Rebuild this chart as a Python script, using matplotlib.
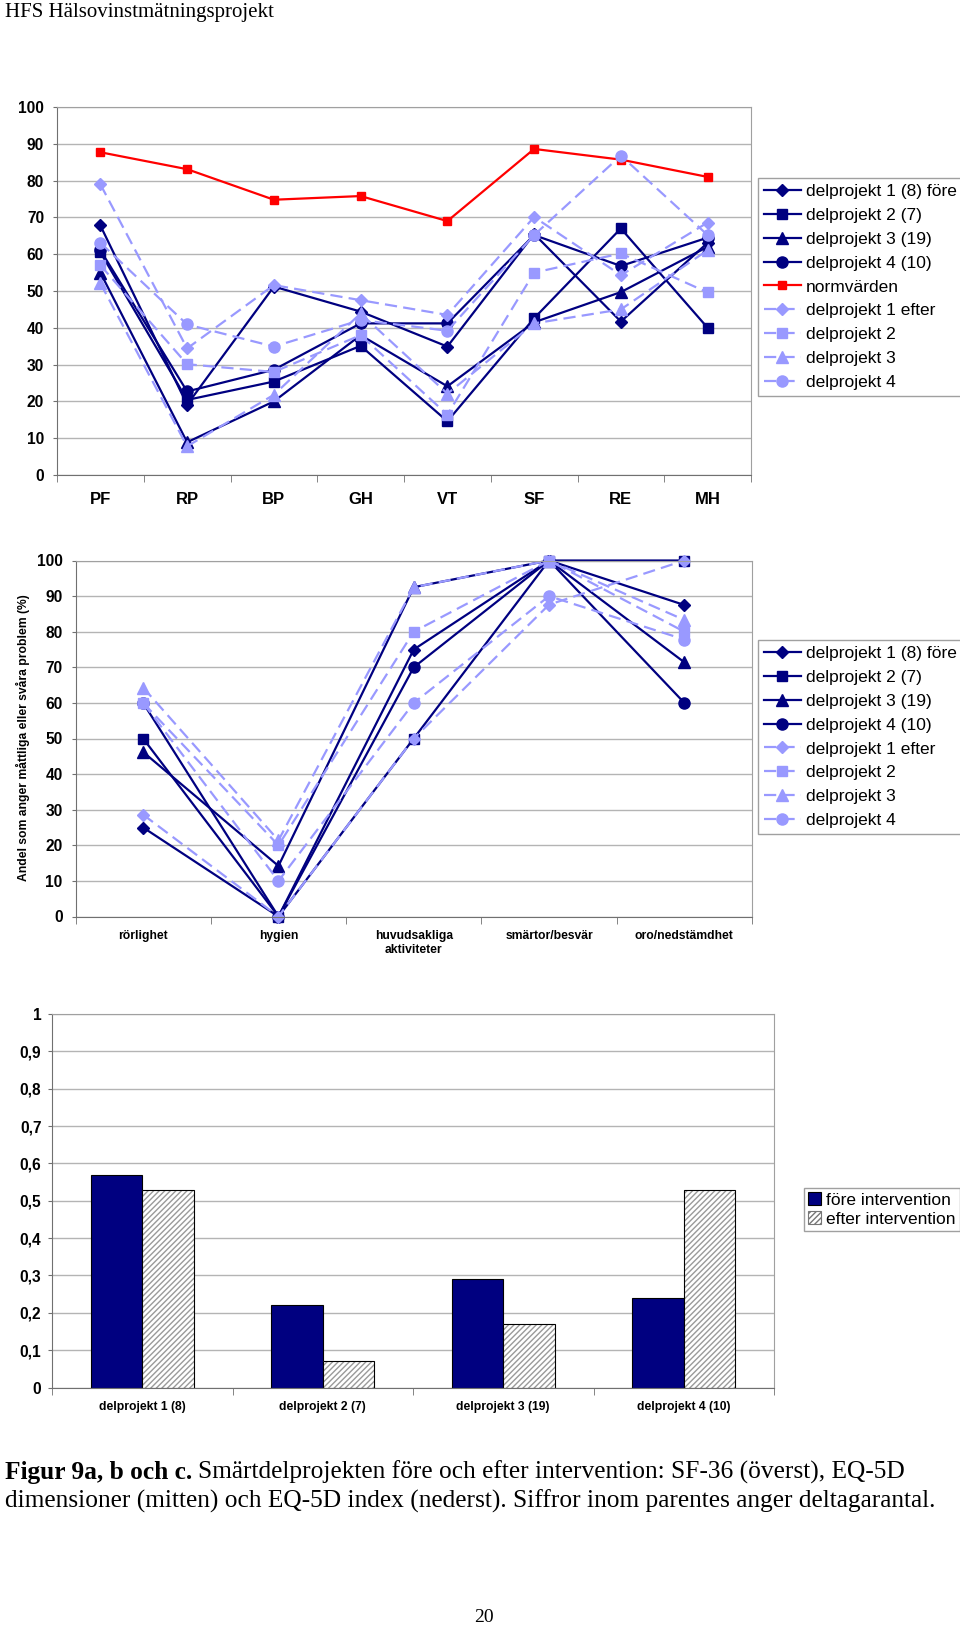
import matplotlib
matplotlib.use('Agg')
import matplotlib.pyplot as plt
from matplotlib.patches import Patch
import numpy as np

# ---------------- data ----------------
sf_categories = ['PF', 'RP', 'BP', 'GH', 'VT', 'SF', 'RE', 'MH']
sf_dp1_fore = [67.8, 19.1, 51.2, 44.4, 34.9, 65.5, 41.7, 63.1]
sf_dp2_fore = [60.5, 20.4, 25.4, 35.1, 14.6, 42.6, 67.0, 40.0]
sf_dp3_fore = [55.0, 8.9, 20.0, 38.0, 24.1, 41.5, 49.7, 62.0]
sf_dp4_fore = [61.1, 22.7, 28.6, 41.2, 41.2, 65.2, 56.8, 64.5]
sf_norm = [87.7, 83.1, 74.8, 75.8, 69.0, 88.6, 85.7, 81.0]
sf_dp1_efter = [79.0, 34.4, 51.6, 47.5, 43.5, 70.1, 54.3, 68.6]
sf_dp2_efter = [57.0, 30.1, 28.0, 38.0, 16.4, 55.0, 60.2, 49.6]
sf_dp3_efter = [52.1, 7.8, 21.8, 43.9, 22.1, 41.2, 45.0, 61.1]
sf_dp4_efter = [63.1, 40.9, 34.9, 42.1, 39.2, 65.2, 86.8, 65.2]

eq_categories = ['rörlighet', 'hygien', 'huvudsakliga\naktiviteter',
                 'smärtor/besvär', 'oro/nedstämdhet']
eq_dp1_fore = [25.0, 0.0, 75.0, 100.0, 87.5]
eq_dp2_fore = [50.0, 0.0, 50.0, 100.0, 100.0]
eq_dp3_fore = [46.2, 14.2, 92.5, 100.0, 71.4]
eq_dp4_fore = [60.0, 0.0, 70.0, 100.0, 60.0]
eq_dp1_efter = [28.6, 0.0, 50.0, 87.6, 100.0]
eq_dp2_efter = [60.0, 20.0, 80.0, 100.0, 80.0]
eq_dp3_efter = [64.3, 21.4, 92.5, 100.0, 83.3]
eq_dp4_efter = [60.0, 10.0, 60.0, 90.0, 77.8]

idx_groups = ['delprojekt 1 (8)', 'delprojekt 2 (7)', 'delprojekt 3 (19)', 'delprojekt 4 (10)']
idx_fore = [0.57, 0.22, 0.29, 0.24]
idx_efter = [0.53, 0.07, 0.17, 0.53]

sf_labels = ['delprojekt 1 (8) före', 'delprojekt 2 (7)', 'delprojekt 3 (19)',
             'delprojekt 4 (10)', 'normvärden', 'delprojekt 1 efter',
             'delprojekt 2', 'delprojekt 3', 'delprojekt 4']
eq_labels = ['delprojekt 1 (8) före', 'delprojekt 2 (7)', 'delprojekt 3 (19)',
             'delprojekt 4 (10)', 'delprojekt 1 efter', 'delprojekt 2',
             'delprojekt 3', 'delprojekt 4']
idx_labels = ['före intervention', 'efter intervention']

# ---------------- style ----------------
DARK = '#000080'
LIGHT = '#9999FF'
RED = '#FF0000'
GRID = '#B4B4B4'
BOLDF = ['Liberation Sans', 'DejaVu Sans']
SANS = ['Liberation Sans', 'DejaVu Sans']
SERIF = ['Liberation Serif', 'DejaVu Serif']

W, H = 960, 1627
fig = plt.figure(figsize=(W / 100, H / 100), dpi=100)


def ax_px(l, t, r, b):
    return fig.add_axes([l / W, 1 - b / H, (r - l) / W, (b - t) / H])


def style_axes(ax, n, ylim, yticks, yticklabels, ysize, xpad, ypad):
    ax.set_axisbelow(True)
    ax.set_xlim(-0.5, n - 0.5)
    ax.set_ylim(*ylim)
    ax.set_yticks(yticks)
    ax.set_yticklabels(yticklabels, family=BOLDF, fontweight='bold', fontsize=ysize)
    ax.grid(axis='y', color=GRID, lw=1)
    for s in ['top', 'right']:
        ax.spines[s].set_color('#A0A0A0')
    for s in ['left', 'bottom']:
        ax.spines[s].set_color('#707070')
    ax.tick_params(axis='y', length=3, color='#707070', pad=ypad)
    ax.set_xticks(np.arange(n))
    ax.set_xticks(np.arange(n + 1) - 0.5, minor=True)
    ax.tick_params(axis='x', which='major', length=0, pad=xpad)
    ax.tick_params(axis='x', which='minor', length=5, color='#707070')


dark_markers = ['D', 's', '^', 'o']
dark_ms = [6, 7, 8, 8]
legend_kw = dict(loc='upper left', bbox_transform=fig.transFigure, frameon=True,
                 fancybox=False, edgecolor='#A0A0A0', framealpha=1,
                 prop={'family': SANS, 'size': 12.5}, borderaxespad=0)

# ---------------- chart 1: SF-36 ----------------
ax1 = ax_px(57, 107, 751, 475)
x1 = np.arange(len(sf_categories))
sf_fore = [sf_dp1_fore, sf_dp2_fore, sf_dp3_fore, sf_dp4_fore]
sf_efter = [sf_dp1_efter, sf_dp2_efter, sf_dp3_efter, sf_dp4_efter]
handles1 = []
for vals, m, ms in zip(sf_fore, dark_markers, dark_ms):
    h, = ax1.plot(x1, vals, color=DARK, lw=1.6, marker=m, ms=ms, mec=DARK, mfc=DARK)
    handles1.append(h)
h, = ax1.plot(x1, sf_norm, color=RED, lw=1.6, marker='s', ms=5.5, mec=RED, mfc=RED)
handles1.append(h)
for vals, m, ms in zip(sf_efter, dark_markers, dark_ms):
    h, = ax1.plot(x1, vals, color=LIGHT, lw=1.6, ls=(0, (5.5, 2.8)), marker=m, ms=ms,
                  mec=LIGHT, mfc=LIGHT)
    handles1.append(h)
style_axes(ax1, len(sf_categories), (0, 100), np.arange(0, 101, 10),
           [str(v) for v in range(0, 101, 10)], 11.2, 12, 6.3)
ax1.set_xticklabels(sf_categories, family=BOLDF, fontweight='bold', fontsize=12)

leg1 = fig.legend(handles1, sf_labels, bbox_to_anchor=(758 / W, 1 - 178 / H),
                  borderpad=0.35, labelspacing=0.5, handlelength=2.1,
                  handletextpad=0.3, numpoints=1, **legend_kw)
leg1.get_frame().set_linewidth(1)

# ---------------- chart 2: EQ-5D dimensions ----------------
ax2 = ax_px(75.5, 560.5, 752, 916.5)
x2 = np.arange(len(eq_categories))
eq_fore = [eq_dp1_fore, eq_dp2_fore, eq_dp3_fore, eq_dp4_fore]
eq_efter = [eq_dp1_efter, eq_dp2_efter, eq_dp3_efter, eq_dp4_efter]
handles2 = []
for vals, m, ms in zip(eq_fore, dark_markers, dark_ms):
    h, = ax2.plot(x2, vals, color=DARK, lw=1.6, marker=m, ms=ms, mec=DARK, mfc=DARK,
                  clip_on=False)
    handles2.append(h)
for vals, m, ms in zip(eq_efter, dark_markers, dark_ms):
    h, = ax2.plot(x2, vals, color=LIGHT, lw=1.6, ls=(0, (5.5, 2.8)), marker=m, ms=ms,
                  mec=LIGHT, mfc=LIGHT, clip_on=False)
    handles2.append(h)
style_axes(ax2, len(eq_categories), (0, 100), np.arange(0, 101, 10),
           [str(v) for v in range(0, 101, 10)], 11.2, 9.5, 6.3)
ax2.set_xticklabels(eq_categories, family=BOLDF, fontweight='bold', fontsize=8.7,
                    linespacing=1.3)
fig.text(23 / W, 1 - 738 / H, 'Andel som anger måttliga eller svåra problem (%)',
         rotation=90, ha='center', va='center', family=SANS, fontweight='bold',
         fontsize=8.7)

leg2 = fig.legend(handles2, eq_labels, bbox_to_anchor=(758 / W, 1 - 640 / H),
                  borderpad=0.35, labelspacing=0.5, handlelength=2.1,
                  handletextpad=0.3, numpoints=1, **legend_kw)
leg2.get_frame().set_linewidth(1)

# ---------------- chart 3: EQ-5D index ----------------
ax3 = ax_px(52, 1014, 774, 1387.5)
x3 = np.arange(len(idx_groups))
bw = 0.286
ax3.bar(x3 - bw / 2, idx_fore, width=bw, color=DARK, edgecolor='black', lw=0.8)
ax3.bar(x3 + bw / 2, idx_efter, width=bw, color='white', edgecolor='#9A9A9A',
        hatch='//////', lw=0)
ax3.bar(x3 + bw / 2, idx_efter, width=bw, color='none', edgecolor='black', lw=0.8)
yt3 = np.round(np.arange(0, 1.01, 0.1), 1)
yl3 = ['0' if v == 0 else ('1' if v == 1 else f'{v:.1f}'.replace('.', ',')) for v in yt3]
style_axes(ax3, len(idx_groups), (0, 1), yt3, yl3, 11.2, 10, 4.6)
ax3.set_xticklabels(idx_groups, family=BOLDF, fontweight='bold', fontsize=8.7)

h3 = [Patch(facecolor=DARK, edgecolor='black', lw=0.8),
      Patch(facecolor='white', edgecolor='#777777', hatch='//////', lw=0.8)]
leg3 = fig.legend(h3, idx_labels, bbox_to_anchor=(804 / W, 1 - 1188 / H),
                  borderpad=0.25, labelspacing=0.2, handlelength=0.75,
                  handleheight=0.75, handletextpad=0.25, **legend_kw)
leg3.get_frame().set_linewidth(1)

# ---------------- page texts ----------------
fig.text(5 / W, 1 - 12 / H, 'HFS Hälsovinstmätningsprojekt', family=SERIF,
         fontsize=15, ha='left', va='center')

renderer = fig.canvas.get_renderer()
t1 = fig.text(5 / W, 1 - 1472 / H, 'Figur 9a, b och c.', family=SERIF,
              fontweight='bold', fontsize=18.3, ha='left', va='center')
bb = t1.get_window_extent(renderer=renderer)
fig.text((bb.x1 + 5.5) / W, 1 - 1472 / H,
         'Smärtdelprojekten före och efter intervention: SF-36 (överst), EQ-5D',
         family=SERIF, fontsize=18.3, ha='left', va='center')
fig.text(5 / W, 1 - 1501 / H,
         'dimensioner (mitten) och EQ-5D index (nederst). Siffror inom parentes anger deltagarantal.',
         family=SERIF, fontsize=18.3, ha='left', va='center')
fig.text(484 / W, 1 - 1617 / H, '20', family=SERIF, fontsize=14, ha='center',
         va='center')

fig.savefig('out.png', dpi=100)
